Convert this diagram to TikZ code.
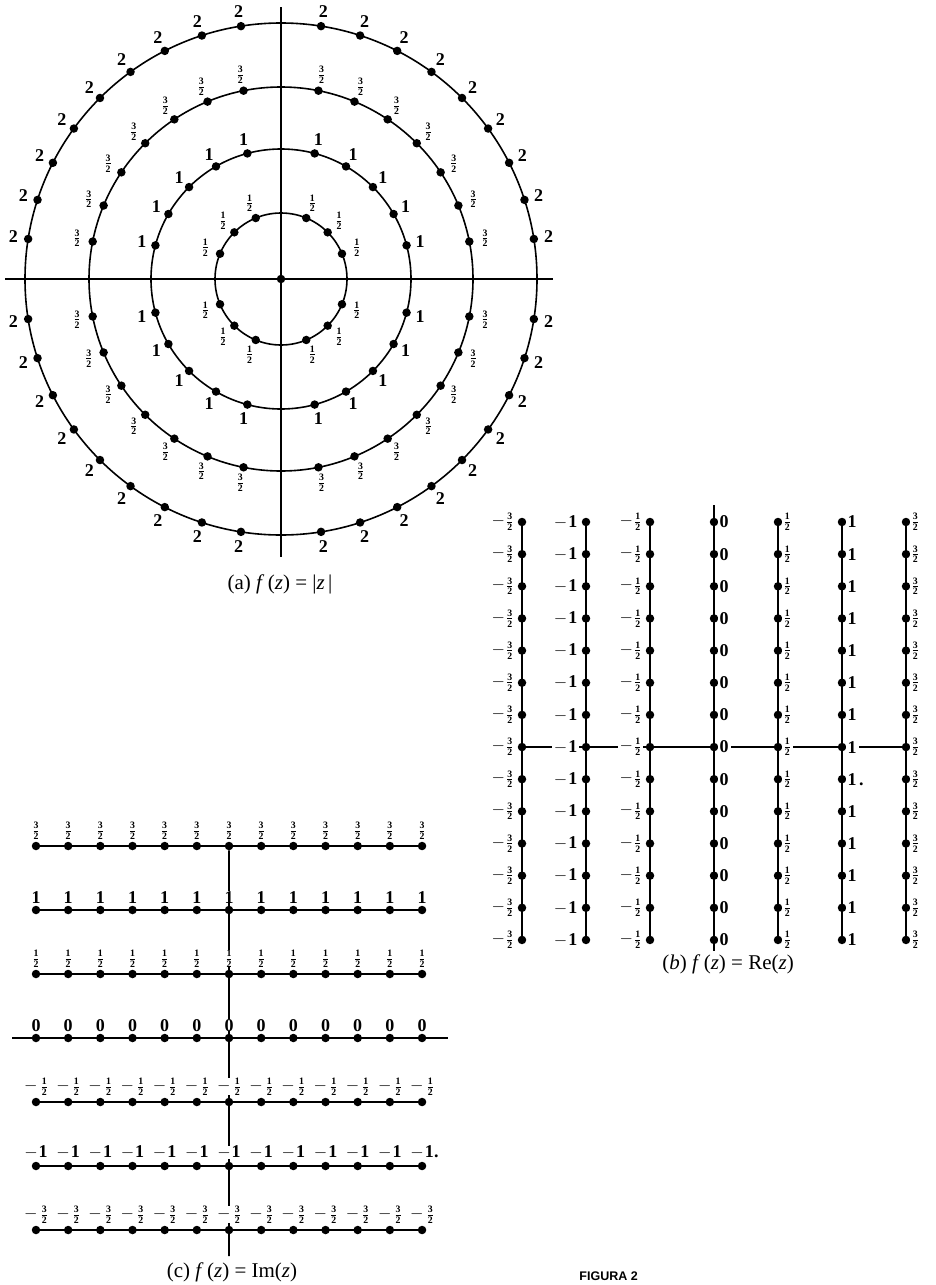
\documentclass[tikz,border=0pt]{standalone}
\usepackage{amsmath}
\usepackage{fontspec}
\setmainfont{Liberation Serif}
\newfontfamily\figfont{Liberation Sans}
\newcommand{\fr}[2]{{\fontsize{14}{14}\selectfont$\frac{\mathbf{#1}}{\mathbf{#2}}$}}
\newcommand{\mn}{$-$\kern1pt}
\begin{document}
\begin{tikzpicture}[x=1pt,y=-1pt,
  dot/.style={circle,fill=black,inner sep=0pt,minimum size=8.5pt},
  lab/.style={inner sep=0pt,font=\fontsize{18}{18}\selectfont\bfseries},
  blab/.style={lab,fill=white,inner xsep=2pt},
  heavy/.style={line width=1.6pt},
  axisline/.style={line width=1.3pt},
  captext/.style={inner sep=0pt,font=\fontsize{21}{21}\selectfont}]
\useasboundingbox (0,0) rectangle (936,1285);
\fill[white] (0,0) rectangle (936,1285);

% ---------------- (a) f(z)=|z|
\coordinate (aL) at (5,279); \coordinate (aR) at (553,279);
\coordinate (aT) at (281,7); \coordinate (aB) at (281,557);
\draw[axisline] (aL) -- (aR);
\draw[axisline] (aT) -- (aB);
\begin{scope}[shift={(281,279)}]
  \draw[heavy] (0,0) circle[radius=66];
  \draw[heavy] (0,0) circle[radius=130];
  \draw[heavy] (0,0) circle[radius=192];
  \draw[heavy] (0,0) circle[radius=256];
  \node[dot] (a0) at (0,0) {};
  \foreach \q in {0,90,180,270}{
    \foreach \j in {1,2,3}{
      \pgfmathsetmacro\ang{\q+22.5*\j}
      \node[dot] (pa-\q-\j) at (\ang:66) {};
      \node[lab] (la-\q-\j) at (\ang:82) {\fr12};
    }
    \foreach \j in {1,...,5}{
      \pgfmathsetmacro\ang{\q+15*\j}
      \node[dot] (pb-\q-\j) at (\ang:130) {};
      \node[lab] (lb-\q-\j) at (\ang:144) {1};
    }
    \foreach \j in {1,...,7}{
      \pgfmathsetmacro\ang{\q+11.25*\j}
      \node[dot] (pc-\q-\j) at (\ang:192) {};
      \node[lab] (lc-\q-\j) at (\ang:208) {\fr32};
    }
    \foreach \j in {1,...,9}{
      \pgfmathsetmacro\ang{\q+9*\j}
      \node[dot] (pd-\q-\j) at (\ang:256) {};
      \node[lab] (ld-\q-\j) at (\ang:271) {2};
    }
  }
\end{scope}
\node[captext] (capa) at (280,584) {(a) \textit{f}\,(\textit{z}) = |\textit{z}\,|};

% ---------------- (b) f(z)=Re(z)
\foreach \i/\xx in {0/522,1/586,2/650,3/714,4/778,5/842,6/906}{
  \foreach \j in {0,...,13}{
    \node[dot] (b\i-\j) at (\xx,{522+32.15*\j}) {};
  }
}
\foreach \i in {0,1,2,4,5,6}{
  \draw[heavy] (b\i-0) -- (b\i-13);
}
\coordinate (b3top) at (714,505);
\coordinate (b3bot) at (714,951);
\draw[heavy] (b3top) -- (b3bot);
\draw[heavy] (b0-7) -- (b6-7);
\foreach \i/\t in {0/\mn\fr32,1/\mn 1,2/\mn\fr12}{
  \foreach \j in {0,...,13}{
    \node[blab,anchor=east] (lb\i-\j) at ([xshift=-2pt]b\i-\j.west) {\t};
  }
}
\foreach \i/\t in {3/0,4/\fr12,5/1,6/\fr32}{
  \foreach \j in {0,...,13}{
    \node[blab,anchor=west] (lb\i-\j) at ([xshift=-1pt]b\i-\j.east) {\t};
  }
}
\node[lab,anchor=base west] (bspeck) at (lb5-8.base east) {.};
\node[captext] (capb) at (728,964) {(\textit{b}) \textit{f}\,(\textit{z}) = Re(\textit{z})};

% ---------------- (c) f(z)=Im(z)
\foreach \k in {0,...,6}{
  \foreach \i in {0,...,12}{
    \node[dot] (c\k-\i) at ({36+32.17*\i},{846+64*\k}) {};
  }
}
\foreach \k in {0,1,2,4,5,6}{
  \draw[heavy] (c\k-0) -- (c\k-12);
}
\coordinate (cL) at (12,1038); \coordinate (cR) at (448,1038);
\draw[heavy] (cL) -- (cR);
\coordinate (cBot) at (229,1256);
\draw[heavy] (c0-6) -- (cBot);
\foreach \k/\t in {0/\fr32,1/1,2/\fr12,3/0,4/\mn\kern2pt\fr12,5/\mn 1,6/\mn\kern2pt\fr32}{
  \foreach \i in {0,...,12}{
    \node[blab,anchor=south,inner xsep=0pt] (lc\k-\i) at ([yshift=2pt]c\k-\i.north) {\t};
  }
}
\node[lab,anchor=base west] (cspeck) at (lc5-12.base east) {.};
\node[captext] (capc) at (232,1272) {(c) \textit{f}\,(\textit{z}) = Im(\textit{z})};

% ---------------- figure label
\node[inner sep=0pt,anchor=east,font=\fontsize{12.5}{12.5}\figfont\bfseries] (fig) at (638,1276) {FIGURA 2};
\end{tikzpicture}
\end{document}
